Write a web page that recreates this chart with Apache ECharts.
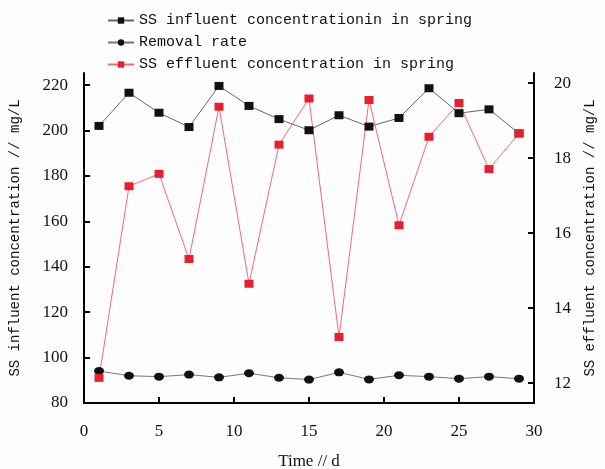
<!DOCTYPE html>
<html><head><meta charset="utf-8">
<script src="https://cdn.jsdelivr.net/npm/echarts@6/dist/echarts.min.js"></script>
<style>html,body{margin:0;padding:0;background:#fdfdfd}#c{width:605px;height:469px}</style>
</head><body><div id="c"></div>
<script>
const days = [1,3,5,7,9,11,13,15,17,19,21,23,25,27,29];
const influent = [202,216.6,207.8,201.5,219.6,210.8,205,200.1,206.7,201.7,205.5,218.6,207.6,209.3,198.7];
const removal = [94.1,92.0,91.6,92.5,91.3,93.1,91.1,90.3,93.5,90.4,92.2,91.6,90.7,91.6,90.7];
const effluent = [12.14,17.25,17.58,15.31,19.37,14.65,18.36,19.59,13.23,19.55,16.21,18.57,19.47,17.71,18.66];
const leftTicks = [80,100,120,140,160,180,200,220];
const rightTicks = [12,14,16,18,20];
const xTicks = [0,5,10,15,20,25,30];

const pair = (xs, ys) => xs.map((x,i)=>[x, ys[i]]);
const labelFont = {fontFamily:'Liberation Serif', fontSize:17, color:'#111'};
const nameFont = {fontFamily:'Liberation Mono', fontSize:14, color:'#111'};

const chart = echarts.init(document.getElementById('c'));
chart.setOption({
  backgroundColor:'#fdfdfd',
  animation:false,
  grid:{left:84,right:71,top:73,bottom:66,containLabel:false,outerBoundsMode:'none'},
  legend:{
    orient:'vertical', left:102, top:8, itemWidth:26, itemHeight:8, itemGap:7,
    textStyle:{fontFamily:'Liberation Mono', fontSize:15, color:'#111'},
    data:['SS influent concentrationin in spring','Removal rate','SS effluent concentration in spring']
  },
  xAxis:{
    type:'value', min:0, max:30, interval:5,
    name:'Time // d', nameLocation:'middle', nameGap:50,
    nameTextStyle:{fontFamily:'Liberation Serif', fontSize:17, color:'#111'},
    axisLine:{lineStyle:{color:'#000',width:2}},
    axisTick:{inside:true,length:6,lineStyle:{color:'#000',width:2}},
    axisLabel:Object.assign({margin:20, customValues:xTicks}, labelFont),
    splitLine:{show:false}
  },
  yAxis:[{
    type:'value', min:80, max:225.3,
    name:'SS influent concentration // mg/L', nameLocation:'middle', nameGap:62,
    nameTextStyle:nameFont,
    axisLine:{show:true,lineStyle:{color:'#000',width:2}},
    axisTick:{inside:true,length:6,customValues:leftTicks,lineStyle:{color:'#000',width:2}},
    axisLabel:Object.assign({margin:16, customValues:leftTicks}, labelFont),
    splitLine:{show:false}
  },{
    type:'value', min:11.47, max:20.27, position:'right',
    name:'SS effluent concentration // mg/L', nameLocation:'middle', nameGap:49,
    nameTextStyle:nameFont,
    axisLine:{show:true,lineStyle:{color:'#000',width:2}},
    axisTick:{inside:true,length:6,customValues:rightTicks,lineStyle:{color:'#000',width:2}},
    axisLabel:Object.assign({margin:20, customValues:rightTicks}, labelFont),
    splitLine:{show:false}
  }],
  series:[{
    name:'SS influent concentrationin in spring', type:'line', yAxisIndex:0,
    data:pair(days, influent), symbol:'rect', symbolSize:[9,8],
    itemStyle:{color:'#111'}, lineStyle:{color:'#666',width:1}
  },{
    name:'Removal rate', type:'line', yAxisIndex:0,
    data:pair(days, removal), symbol:'circle', symbolSize:[10,8],
    itemStyle:{color:'#111'}, lineStyle:{color:'#777',width:1}
  },{
    name:'SS effluent concentration in spring', type:'line', yAxisIndex:1,
    data:pair(days, effluent), symbol:'rect', symbolSize:[9,8],
    itemStyle:{color:'#e8202e'}, lineStyle:{color:'#f06a78',width:1}
  }]
});
</script></body></html>
